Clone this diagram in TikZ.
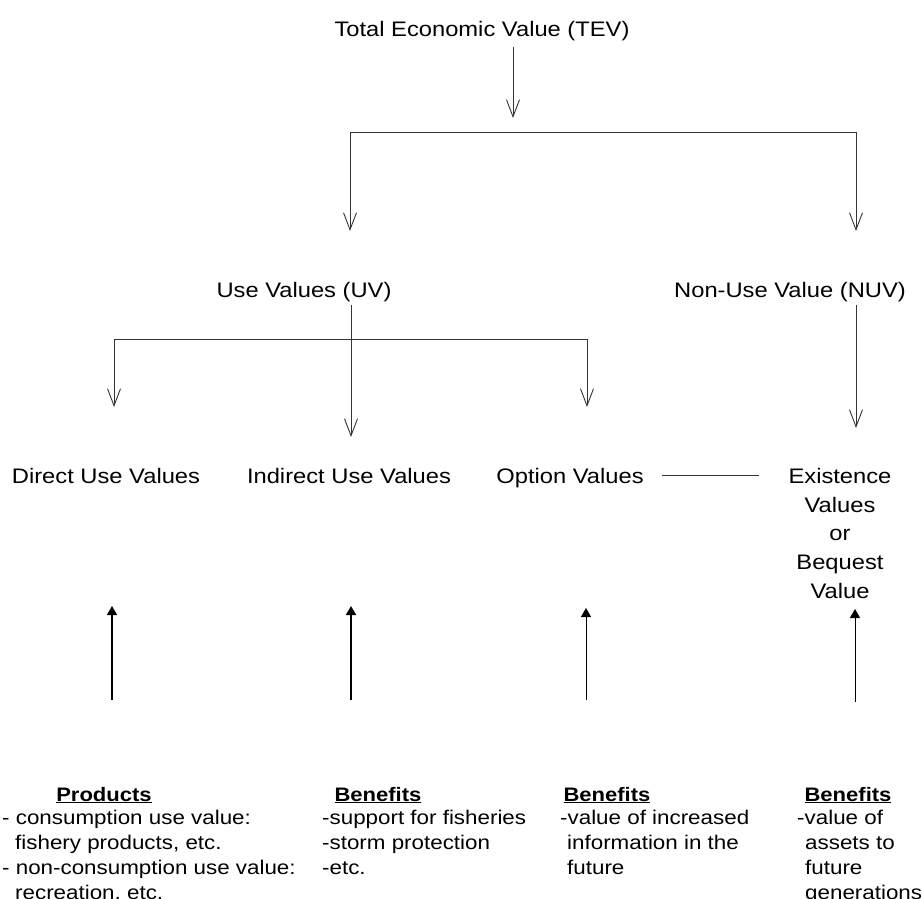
\documentclass[tikz,border=0pt]{standalone}
\usepackage{fontspec}
\setmainfont{Liberation Sans}[FakeStretch=1.13]
\usetikzlibrary{arrows.meta}

\begin{document}
\begin{tikzpicture}[
    x=1pt, y=-1pt,
    head/.style={font=\fontsize{21}{28.7}\selectfont, inner sep=0pt, align=center},
    title/.style={font=\fontsize{19.5}{25}\selectfont\bfseries, inner sep=0pt},
    list/.style={font=\fontsize{19.8}{25}\selectfont, inner sep=0pt, align=left, anchor=north west},
    line/.style={draw=black!80, line width=1pt},
    down/.style={line, -{Straight Barb[length=17pt,width=13pt,line width=0.9pt]}},
    up/.style={draw=black, -{Triangle[length=9pt,width=10pt]}}
]
\useasboundingbox (0,0) rectangle (922,899);

% top level
\node[head, anchor=base] (tev) at (482,37) {Total Economic Value (TEV)};
\coordinate (tevend) at (513,118);
\draw[down] ([yshift=-10pt]tev.base -| tevend) -- (tevend);

\coordinate (jl) at (350,132);
\coordinate (jr) at (856,132);
\draw[line] (jl) -- (jr);

% second level
\node[head, anchor=base] (uv) at (304,297) {Use Values (UV)};
\node[head, anchor=base] (nuv) at (790,297) {Non-Use Value (NUV)};
\draw[down] (jl) -- ([yshift=66pt]uv.base -| jl);
\draw[down] (jr) -- ([yshift=66pt]nuv.base -| jr);

% third level
\node[head, anchor=base] (direct) at (106,483) {Direct Use Values};
\node[head, anchor=base] (indirect) at (349,483) {Indirect Use Values};
\node[head, anchor=base] (option) at (570,483) {Option Values};
\node[head, anchor=north] (exist) at (840,468) {Existence\\Values\\or\\Bequest\\Value};

\coordinate (uvend) at (351,437);
\draw[down] ([yshift=-8pt]uv.base -| uvend) -- (uvend);
\coordinate (kl) at (114,339);
\coordinate (kr) at (587,339);
\draw[line] (kl) -- (kr);
\draw[down] (kl) -- ([yshift=76pt]direct.base -| kl);
\draw[down] (kr) -- ([yshift=76pt]option.base -| kr);
\coordinate (nuvend) at (856,428);
\draw[down] ([yshift=-8pt]nuv.base -| nuvend) -- (nuvend);

\draw[line] ([xshift=18pt,yshift=8pt]option.base east)
    -- ([xshift=-29pt,yshift=8pt]option.base east -| exist.west);

% bottom level
\node[title, anchor=base] (prod) at (104,801) {\underline{Products}};
\node[title, anchor=base] (ben1) at (378,801) {\underline{Benefits}};
\node[title, anchor=base] (ben2) at (607,801) {\underline{Benefits}};
\node[title, anchor=base] (ben3) at (848,801) {\underline{Benefits}};

\node[list] (prodlist) at (2,810) {- consumption use value:\\\hspace*{13pt}fishery products, etc.\\- non-consumption use value:\\\hspace*{13pt}recreation, etc.};
\node[list] (ben1list) at (322,810) {-support for fisheries\\-storm protection\\-etc.};
\node[list] (ben2list) at (560,810) {-value of increased\\\hspace*{7pt}information in the\\\hspace*{7pt}future};
\node[list] (ben3list) at (797,810) {-value of\\\hspace*{8pt}assets to\\\hspace*{8pt}future\\\hspace*{8pt}generations};

\coordinate (foot1) at (112,700);
\coordinate (foot2) at (351,700);
\coordinate (foot3) at (586,700);
\coordinate (foot4) at (855,702);
\draw[up, line width=1.6pt] (foot1) -- ([yshift=-123pt]direct.base -| foot1);
\draw[up, line width=1.8pt] (foot2) -- ([yshift=-123pt]indirect.base -| foot2);
\draw[up, line width=0.9pt] (foot3) -- ([yshift=-125pt]option.base -| foot3);
\draw[up, line width=0.9pt] (foot4) -- ([yshift=-126pt]option.base -| foot4);
\end{tikzpicture}
\end{document}
